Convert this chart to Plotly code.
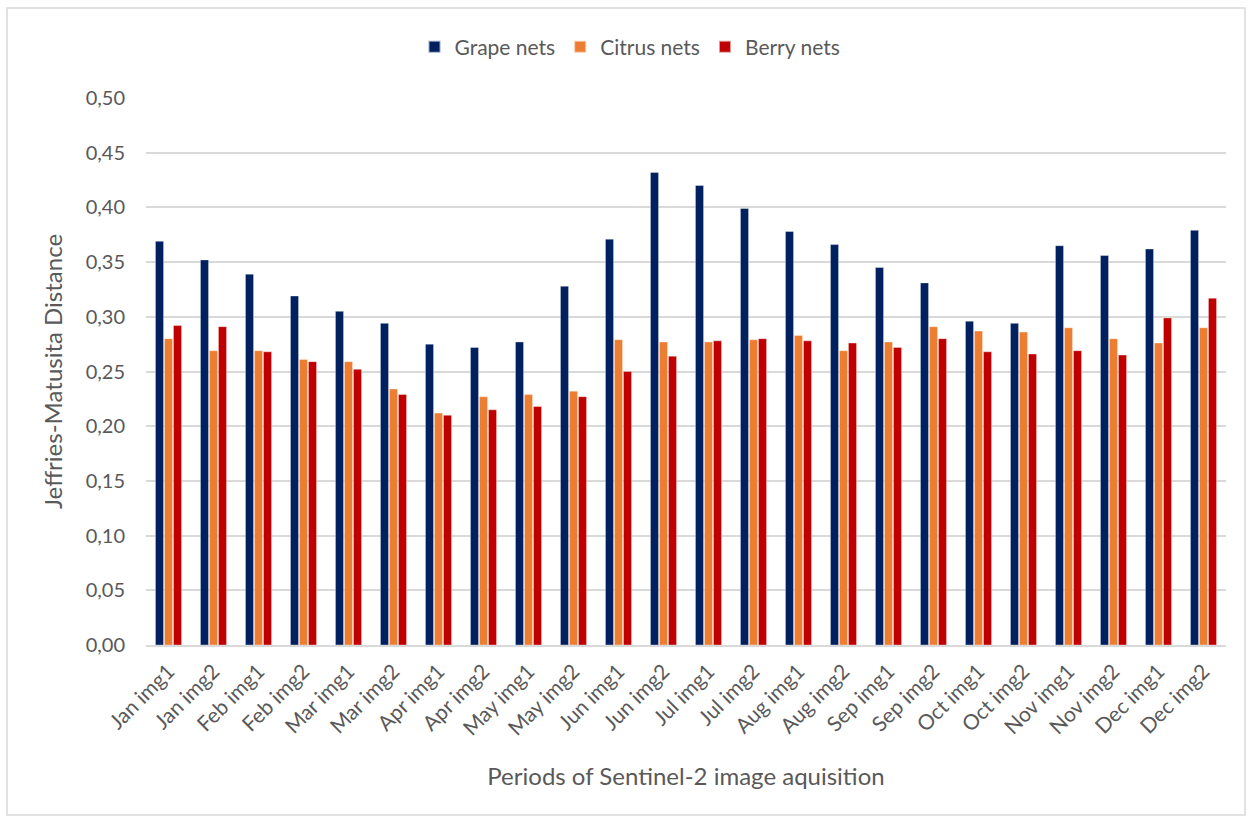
import plotly.graph_objects as go

periods = ["Jan img1", "Jan img2", "Feb img1", "Feb img2", "Mar img1", "Mar img2",
           "Apr img1", "Apr img2", "May img1", "May img2", "Jun img1", "Jun img2",
           "Jul img1", "Jul img2", "Aug img1", "Aug img2", "Sep img1", "Sep img2",
           "Oct img1", "Oct img2", "Nov img1", "Nov img2", "Dec img1", "Dec img2"]

grape_nets = [0.369, 0.352, 0.339, 0.319, 0.305, 0.294, 0.275, 0.272, 0.277, 0.328,
              0.371, 0.432, 0.420, 0.399, 0.378, 0.366, 0.345, 0.331, 0.296, 0.294,
              0.365, 0.356, 0.362, 0.379]
citrus_nets = [0.280, 0.269, 0.269, 0.261, 0.259, 0.234, 0.212, 0.227, 0.229, 0.232,
               0.279, 0.277, 0.277, 0.279, 0.283, 0.269, 0.277, 0.291, 0.287, 0.286,
               0.290, 0.280, 0.276, 0.290]
berry_nets = [0.292, 0.291, 0.268, 0.259, 0.252, 0.229, 0.210, 0.215, 0.218, 0.227,
              0.250, 0.264, 0.278, 0.280, 0.278, 0.276, 0.272, 0.280, 0.268, 0.266,
              0.269, 0.265, 0.299, 0.317]

series = [("Grape nets", grape_nets, "#002060"),
          ("Citrus nets", citrus_nets, "#ED7D31"),
          ("Berry nets", berry_nets, "#C00000")]

FONT = "Lato, 'Open Sans', sans-serif"
GREY = "#595959"

fig = go.Figure()
for name, vals, col in series:
    fig.add_trace(go.Bar(
        x=periods, y=vals, name=name,
        marker=dict(color=col, line=dict(color="rgba(255,255,255,0.6)", width=0.6)),
    ))

# plot area spans x 146..1226 px, y 98..645 px
L, R, T, B = 146, 24, 98, 173
W = 1250 - L - R
H = 818 - T - B

def px_x(x):
    return (x - L) / W

def px_y(y):
    return (818 - B - y) / H

fig.update_layout(
    width=1250, height=818,
    margin=dict(l=L, r=R, t=T, b=B),
    paper_bgcolor="white", plot_bgcolor="white",
    separators=",.",
    barmode="group", bargap=0.4, bargroupgap=0.1,
    font=dict(family=FONT, color=GREY, size=20),
    showlegend=True,
    legend=dict(orientation="h", x=px_x(630), xanchor="center",
                y=px_y(47), yanchor="middle",
                font=dict(size=21, color=GREY, family=FONT),
                itemsizing="constant", traceorder="normal", itemwidth=30),
    xaxis=dict(tickangle=-45, tickfont=dict(size=21, color=GREY, family=FONT),
               showline=True, linecolor="#D9D9D9", linewidth=1.5,
               ticks="", showgrid=False, ticklabelstandoff=4,
               title=dict(text="Periods of Sentinel-2 image aquisition",
                          font=dict(size=24, color=GREY, family=FONT), standoff=30)),
    yaxis=dict(range=[0, 0.5], dtick=0.05, tickformat=".2f",
               tickfont=dict(size=20, color=GREY, family=FONT),
               showgrid=True, gridcolor="#D9D9D9", gridwidth=1.5,
               zeroline=False, ticks="", ticklabelstandoff=20,
               title=dict(text="Jeffries-Matusita Distance",
                          font=dict(size=24, color=GREY, family=FONT), standoff=16)),
    shapes=[dict(type="rect", xref="paper", yref="paper",
                 x0=px_x(7), x1=px_x(1245), y0=px_y(815), y1=px_y(8),
                 line=dict(color="#D9D9D9", width=1.5), fillcolor="rgba(0,0,0,0)",
                 layer="below")],
)

fig.write_html("out.html")
